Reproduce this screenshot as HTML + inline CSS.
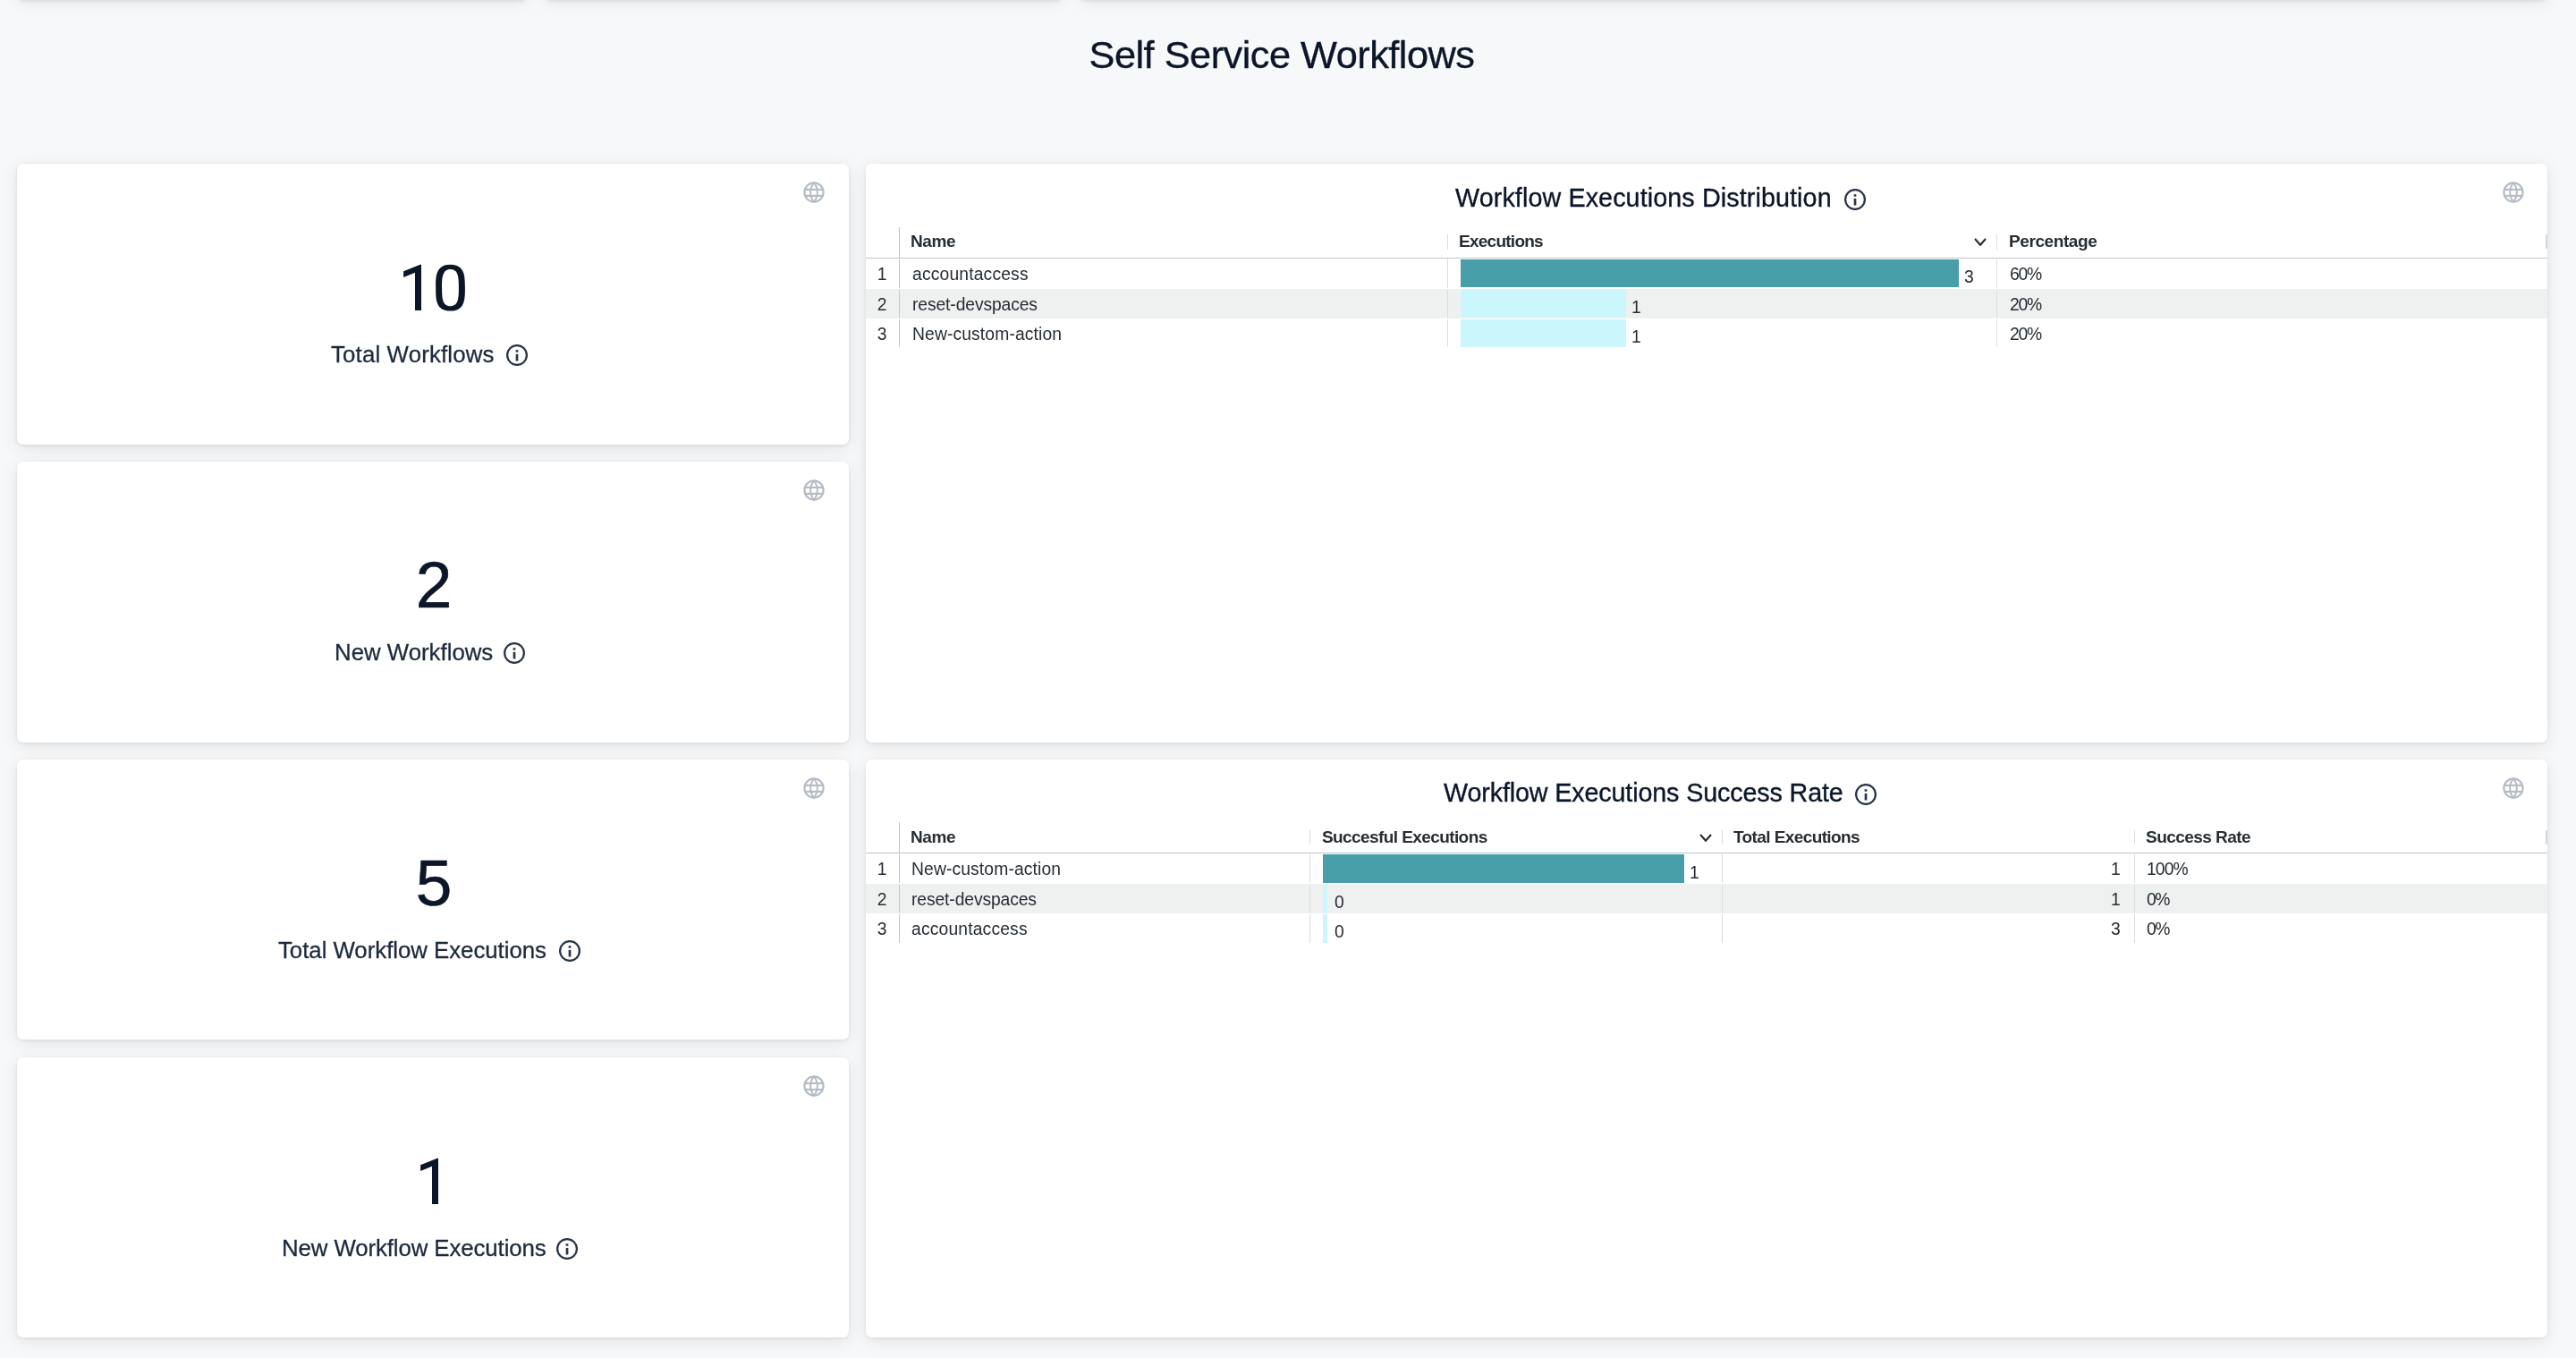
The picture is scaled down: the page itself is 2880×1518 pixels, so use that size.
<!DOCTYPE html>
<html>
<head>
<meta charset="utf-8">
<style>
html,body{margin:0;padding:0;}
body{width:2880px;height:1518px;overflow:hidden;position:relative;background:#f7f8fa;font-family:"Liberation Sans",sans-serif;}
.card{position:absolute;background:#fff;border-radius:6.5px;box-shadow:0 1px 4px rgba(0,0,0,0.08),0 4px 18px rgba(0,0,0,0.09);}
.t{position:absolute;white-space:nowrap;line-height:1;will-change:transform;}
.r{position:absolute;}
svg{display:block;}
</style>
</head>
<body>
<div class="card" style="left:19px;top:-300px;width:571px;height:298px;box-shadow:0 2px 5px rgba(0,0,0,0.13),0 4px 18px rgba(0,0,0,0.09);"></div>
<div class="card" style="left:609px;top:-300px;width:579px;height:298px;box-shadow:0 2px 5px rgba(0,0,0,0.13),0 4px 18px rgba(0,0,0,0.09);"></div>
<div class="card" style="left:1207px;top:-300px;width:1641px;height:298px;box-shadow:0 2px 5px rgba(0,0,0,0.13),0 4px 18px rgba(0,0,0,0.09);"></div>
<div class="t" style="left:933.00px;width:1000px;text-align:center;top:40.35px;font-size:43.3px;color:#0b1629;font-weight:400;-webkit-text-stroke:0.35px #0b1629;letter-spacing:-0.5px;">Self Service Workflows</div>
<div class="card" style="left:19px;top:183px;width:930px;height:314px;"></div>
<div class="r" style="left:898.30px;top:203.20px;width:24px;height:24px;"><svg width="24" height="24" viewBox="0 0 24 24" fill="none" stroke="#b6bcc7" stroke-width="2.2"><circle cx="12" cy="12" r="10.6"/><line x1="1.5" y1="8.9" x2="22.5" y2="8.9"/><line x1="1.5" y1="15.9" x2="22.5" y2="15.9"/><path d="M12 1.4 A16.5 16.5 0 0 0 12 22.6 A16.5 16.5 0 0 0 12 1.4Z" stroke-width="2"/></svg></div>
<svg class="r" style="left:0;top:0;" width="960" height="1518"><polygon points="471.00,295.80 471.00,346.90 464.00,346.90 464.00,304.80 451.10,310.00 451.10,303.30 469.80,295.80" fill="#0b1629"/><path fill-rule="evenodd" fill="#0b1629" d="M503.55 295.80 C520.20 295.80 519.90 309.80 519.90 321.70 C519.90 333.80 520.20 347.60 503.55 347.60 C486.90 347.60 487.20 333.80 487.20 321.70 C487.20 309.80 486.90 295.80 503.55 295.80 Z M503.55 301.00 C494.50 301.00 494.10 310.80 494.10 321.70 C494.10 332.80 494.50 342.20 503.55 342.20 C512.60 342.20 512.90 332.80 512.90 321.70 C512.90 310.80 512.60 301.00 503.55 301.00 Z"/></svg>
<div class="t lbl" style="left:369.95px;top:383.96px;font-size:25.8px;color:#1d2a3d;letter-spacing:0.157px;-webkit-text-stroke:0.3px #1d2a3d;">Total Workflows</div>
<div class="r" style="left:566.15px;top:384.50px;width:24px;height:24px;"><svg width="24" height="24" viewBox="0 0 24 24"><circle cx="12" cy="12" r="10.9" fill="none" stroke="#2a3649" stroke-width="2.3"/><rect x="10.65" y="6.2" width="2.7" height="2.5" fill="#2a3649"/><rect x="10.65" y="10.9" width="2.7" height="7.6" fill="#2a3649"/></svg></div>
<div class="card" style="left:19px;top:516px;width:930px;height:314px;"></div>
<div class="r" style="left:898.30px;top:536.20px;width:24px;height:24px;"><svg width="24" height="24" viewBox="0 0 24 24" fill="none" stroke="#b6bcc7" stroke-width="2.2"><circle cx="12" cy="12" r="10.6"/><line x1="1.5" y1="8.9" x2="22.5" y2="8.9"/><line x1="1.5" y1="15.9" x2="22.5" y2="15.9"/><path d="M12 1.4 A16.5 16.5 0 0 0 12 22.6 A16.5 16.5 0 0 0 12 1.4Z" stroke-width="2"/></svg></div>
<div class="t" style="left:-15.50px;width:1000px;text-align:center;top:617.41px;font-size:73px;color:#0b1629;font-weight:400;-webkit-text-stroke:0.6px #0b1629;">2</div>
<div class="t lbl" style="left:373.55px;top:716.96px;font-size:25.8px;color:#1d2a3d;letter-spacing:0.0px;-webkit-text-stroke:0.3px #1d2a3d;">New Workflows</div>
<div class="r" style="left:562.55px;top:717.50px;width:24px;height:24px;"><svg width="24" height="24" viewBox="0 0 24 24"><circle cx="12" cy="12" r="10.9" fill="none" stroke="#2a3649" stroke-width="2.3"/><rect x="10.65" y="6.2" width="2.7" height="2.5" fill="#2a3649"/><rect x="10.65" y="10.9" width="2.7" height="7.6" fill="#2a3649"/></svg></div>
<div class="card" style="left:19px;top:849px;width:930px;height:313px;"></div>
<div class="r" style="left:898.30px;top:869.20px;width:24px;height:24px;"><svg width="24" height="24" viewBox="0 0 24 24" fill="none" stroke="#b6bcc7" stroke-width="2.2"><circle cx="12" cy="12" r="10.6"/><line x1="1.5" y1="8.9" x2="22.5" y2="8.9"/><line x1="1.5" y1="15.9" x2="22.5" y2="15.9"/><path d="M12 1.4 A16.5 16.5 0 0 0 12 22.6 A16.5 16.5 0 0 0 12 1.4Z" stroke-width="2"/></svg></div>
<div class="t" style="left:-15.50px;width:1000px;text-align:center;top:950.41px;font-size:73px;color:#0b1629;font-weight:400;-webkit-text-stroke:0.6px #0b1629;">5</div>
<div class="t lbl" style="left:311.35px;top:1049.96px;font-size:25.8px;color:#1d2a3d;letter-spacing:-0.025px;-webkit-text-stroke:0.3px #1d2a3d;">Total Workflow Executions</div>
<div class="r" style="left:624.75px;top:1050.50px;width:24px;height:24px;"><svg width="24" height="24" viewBox="0 0 24 24"><circle cx="12" cy="12" r="10.9" fill="none" stroke="#2a3649" stroke-width="2.3"/><rect x="10.65" y="6.2" width="2.7" height="2.5" fill="#2a3649"/><rect x="10.65" y="10.9" width="2.7" height="7.6" fill="#2a3649"/></svg></div>
<div class="card" style="left:19px;top:1182px;width:930px;height:313px;"></div>
<div class="r" style="left:898.30px;top:1202.20px;width:24px;height:24px;"><svg width="24" height="24" viewBox="0 0 24 24" fill="none" stroke="#b6bcc7" stroke-width="2.2"><circle cx="12" cy="12" r="10.6"/><line x1="1.5" y1="8.9" x2="22.5" y2="8.9"/><line x1="1.5" y1="15.9" x2="22.5" y2="15.9"/><path d="M12 1.4 A16.5 16.5 0 0 0 12 22.6 A16.5 16.5 0 0 0 12 1.4Z" stroke-width="2"/></svg></div>
<svg class="r" style="left:0;top:0;" width="960" height="1518"><polygon points="490.00,1294.80 490.00,1345.90 483.00,1345.90 483.00,1303.80 470.10,1309.00 470.10,1302.30 488.80,1294.80" fill="#0b1629"/></svg>
<div class="t lbl" style="left:314.55px;top:1382.96px;font-size:25.8px;color:#1d2a3d;letter-spacing:-0.091px;-webkit-text-stroke:0.3px #1d2a3d;">New Workflow Executions</div>
<div class="r" style="left:621.55px;top:1383.50px;width:24px;height:24px;"><svg width="24" height="24" viewBox="0 0 24 24"><circle cx="12" cy="12" r="10.9" fill="none" stroke="#2a3649" stroke-width="2.3"/><rect x="10.65" y="6.2" width="2.7" height="2.5" fill="#2a3649"/><rect x="10.65" y="10.9" width="2.7" height="7.6" fill="#2a3649"/></svg></div>
<div class="card" style="left:968px;top:183px;width:1880px;height:647px;"></div>
<div class="r" style="left:2797.50px;top:203.20px;width:24px;height:24px;"><svg width="24" height="24" viewBox="0 0 24 24" fill="none" stroke="#b6bcc7" stroke-width="2.2"><circle cx="12" cy="12" r="10.6"/><line x1="1.5" y1="8.9" x2="22.5" y2="8.9"/><line x1="1.5" y1="15.9" x2="22.5" y2="15.9"/><path d="M12 1.4 A16.5 16.5 0 0 0 12 22.6 A16.5 16.5 0 0 0 12 1.4Z" stroke-width="2"/></svg></div>
<div class="t" style="left:1627.00px;top:206.81px;font-size:28.7px;color:#0b1629;font-weight:400;-webkit-text-stroke:0.35px #0b1629;letter-spacing:0.11px;">Workflow Executions Distribution</div>
<div class="r" style="left:2061.90px;top:211.00px;width:24px;height:24px;"><svg width="24" height="24" viewBox="0 0 24 24"><circle cx="12" cy="12" r="10.9" fill="none" stroke="#2a3649" stroke-width="2.3"/><rect x="10.65" y="6.2" width="2.7" height="2.5" fill="#2a3649"/><rect x="10.65" y="10.9" width="2.7" height="7.6" fill="#2a3649"/></svg></div>
<div class="r" style="left:1005px;top:254px;width:1px;height:34px;background:#c1c6cb;"></div>
<div class="r" style="left:1618px;top:262px;width:1px;height:17px;background:#d9dce0;"></div>
<div class="r" style="left:2232px;top:262px;width:1px;height:17px;background:#d9dce0;"></div>
<div class="r" style="left:2846px;top:262px;width:2px;height:16px;background:#d5d9de;"></div>
<div class="r" style="left:968px;top:288px;width:1880px;height:1px;background:#bec3c8;"></div>
<div class="t" style="left:1018.20px;top:260.22px;font-size:19px;color:#262d33;font-weight:700;letter-spacing:-0.433px;">Name</div>
<div class="t" style="left:1631.20px;top:260.22px;font-size:19px;color:#262d33;font-weight:700;letter-spacing:-0.744px;">Executions</div>
<div class="t" style="left:2245.60px;top:260.22px;font-size:19px;color:#262d33;font-weight:700;letter-spacing:-0.411px;">Percentage</div>
<div class="r" style="left:2207px;top:266px;width:14px;height:9px;"><svg width="14" height="9" viewBox="0 0 14 9"><polyline points="1,1 7.0,7.8 13,1" fill="none" stroke="#262d33" stroke-width="2.1"/></svg></div>
<div class="r" style="left:968px;top:323px;width:1880px;height:33px;background:#eff1f1;"></div>
<div class="r" style="left:1005px;top:290px;width:1px;height:32px;background:#c1c6cb;"></div>
<div class="r" style="left:1618px;top:290px;width:1px;height:32px;background:#d9dce0;"></div>
<div class="r" style="left:2232px;top:290px;width:1px;height:32px;background:#d9dce0;"></div>
<div class="t" style="left:485.50px;width:1000px;text-align:center;top:296.66px;font-size:19.3px;color:#262d33;font-weight:400;">1</div>
<div class="t" style="left:1019.60px;top:296.66px;font-size:19.3px;color:#262d33;font-weight:400;letter-spacing:0.167px;">accountaccess</div>
<div class="r" style="left:1633px;top:290px;width:557px;height:31px;background:#489ea9;"></div>
<div class="t" style="left:2196.00px;top:299.66px;font-size:19.3px;color:#262d33;font-weight:400;">3</div>
<div class="t" style="left:2247.00px;top:296.66px;font-size:19.3px;color:#262d33;font-weight:400;letter-spacing:-1.2px;">60%</div>
<div class="r" style="left:1005px;top:324px;width:1px;height:31px;background:#c1c6cb;"></div>
<div class="r" style="left:1618px;top:324px;width:1px;height:31px;background:#d9dce0;"></div>
<div class="r" style="left:2232px;top:324px;width:1px;height:31px;background:#d9dce0;"></div>
<div class="t" style="left:485.50px;width:1000px;text-align:center;top:330.66px;font-size:19.3px;color:#262d33;font-weight:400;">2</div>
<div class="t" style="left:1019.60px;top:330.66px;font-size:19.3px;color:#262d33;font-weight:400;letter-spacing:-0.107px;">reset-devspaces</div>
<div class="r" style="left:1633px;top:324px;width:185px;height:30.5px;background:#cbf6fb;"></div>
<div class="t" style="left:1824.00px;top:333.66px;font-size:19.3px;color:#262d33;font-weight:400;">1</div>
<div class="t" style="left:2247.00px;top:330.66px;font-size:19.3px;color:#262d33;font-weight:400;letter-spacing:-1.2px;">20%</div>
<div class="r" style="left:1005px;top:357px;width:1px;height:31px;background:#c1c6cb;"></div>
<div class="r" style="left:1618px;top:357px;width:1px;height:31px;background:#d9dce0;"></div>
<div class="r" style="left:2232px;top:357px;width:1px;height:31px;background:#d9dce0;"></div>
<div class="t" style="left:485.50px;width:1000px;text-align:center;top:363.66px;font-size:19.3px;color:#262d33;font-weight:400;">3</div>
<div class="t" style="left:1019.60px;top:363.66px;font-size:19.3px;color:#262d33;font-weight:400;letter-spacing:0.125px;">New-custom-action</div>
<div class="r" style="left:1633px;top:357px;width:185px;height:30.5px;background:#cbf6fb;"></div>
<div class="t" style="left:1824.00px;top:366.66px;font-size:19.3px;color:#262d33;font-weight:400;">1</div>
<div class="t" style="left:2247.00px;top:363.66px;font-size:19.3px;color:#262d33;font-weight:400;letter-spacing:-1.2px;">20%</div>
<div class="card" style="left:968px;top:849px;width:1880px;height:646px;"></div>
<div class="r" style="left:2797.50px;top:869.20px;width:24px;height:24px;"><svg width="24" height="24" viewBox="0 0 24 24" fill="none" stroke="#b6bcc7" stroke-width="2.2"><circle cx="12" cy="12" r="10.6"/><line x1="1.5" y1="8.9" x2="22.5" y2="8.9"/><line x1="1.5" y1="15.9" x2="22.5" y2="15.9"/><path d="M12 1.4 A16.5 16.5 0 0 0 12 22.6 A16.5 16.5 0 0 0 12 1.4Z" stroke-width="2"/></svg></div>
<div class="t" style="left:1614.20px;top:872.01px;font-size:28.7px;color:#0b1629;font-weight:400;-webkit-text-stroke:0.35px #0b1629;letter-spacing:-0.126px;">Workflow Executions Success Rate</div>
<div class="r" style="left:2074.40px;top:876.20px;width:24px;height:24px;"><svg width="24" height="24" viewBox="0 0 24 24"><circle cx="12" cy="12" r="10.9" fill="none" stroke="#2a3649" stroke-width="2.3"/><rect x="10.65" y="6.2" width="2.7" height="2.5" fill="#2a3649"/><rect x="10.65" y="10.9" width="2.7" height="7.6" fill="#2a3649"/></svg></div>
<div class="r" style="left:1005px;top:919px;width:1px;height:35px;background:#c1c6cb;"></div>
<div class="r" style="left:1464px;top:928px;width:1px;height:16px;background:#d9dce0;"></div>
<div class="r" style="left:1925px;top:928px;width:1px;height:16px;background:#d9dce0;"></div>
<div class="r" style="left:2386px;top:928px;width:1px;height:16px;background:#d9dce0;"></div>
<div class="r" style="left:2846px;top:928px;width:2px;height:16px;background:#d5d9de;"></div>
<div class="r" style="left:968px;top:953px;width:1880px;height:1px;background:#bec3c8;"></div>
<div class="t" style="left:1018.20px;top:925.92px;font-size:19px;color:#262d33;font-weight:700;letter-spacing:-0.433px;">Name</div>
<div class="t" style="left:1477.80px;top:925.92px;font-size:19px;color:#262d33;font-weight:700;letter-spacing:-0.589px;">Succesful Executions</div>
<div class="t" style="left:1938.20px;top:925.92px;font-size:19px;color:#262d33;font-weight:700;letter-spacing:-0.6px;">Total Executions</div>
<div class="t" style="left:2399.20px;top:925.92px;font-size:19px;color:#262d33;font-weight:700;letter-spacing:-0.545px;">Success Rate</div>
<div class="r" style="left:1900px;top:932px;width:14px;height:9px;"><svg width="14" height="9" viewBox="0 0 14 9"><polyline points="1,1 7.0,7.8 13,1" fill="none" stroke="#262d33" stroke-width="2.1"/></svg></div>
<div class="r" style="left:968px;top:988px;width:1880px;height:33px;background:#eff1f1;"></div>
<div class="r" style="left:1005px;top:955px;width:1px;height:32px;background:#c1c6cb;"></div>
<div class="r" style="left:1464px;top:955px;width:1px;height:32px;background:#d9dce0;"></div>
<div class="r" style="left:1925px;top:955px;width:1px;height:32px;background:#d9dce0;"></div>
<div class="r" style="left:2386px;top:955px;width:1px;height:32px;background:#d9dce0;"></div>
<div class="t" style="left:485.50px;width:1000px;text-align:center;top:961.66px;font-size:19.3px;color:#262d33;font-weight:400;">1</div>
<div class="t" style="left:1019.00px;top:961.66px;font-size:19.3px;color:#262d33;font-weight:400;letter-spacing:0.125px;">New-custom-action</div>
<div class="r" style="left:1479px;top:955px;width:404px;height:31.5px;background:#489ea9;"></div>
<div class="t" style="left:1889.00px;top:965.66px;font-size:19.3px;color:#262d33;font-weight:400;">1</div>
<div class="t" style="right:509.00px;top:961.66px;font-size:19.3px;color:#262d33;font-weight:400;">1</div>
<div class="t" style="left:2399.80px;top:961.66px;font-size:19.3px;color:#262d33;font-weight:400;letter-spacing:-0.9px;">100%</div>
<div class="r" style="left:1005px;top:989px;width:1px;height:31px;background:#c1c6cb;"></div>
<div class="r" style="left:1464px;top:989px;width:1px;height:31px;background:#d9dce0;"></div>
<div class="r" style="left:1925px;top:989px;width:1px;height:31px;background:#d9dce0;"></div>
<div class="r" style="left:2386px;top:989px;width:1px;height:31px;background:#d9dce0;"></div>
<div class="t" style="left:485.50px;width:1000px;text-align:center;top:995.66px;font-size:19.3px;color:#262d33;font-weight:400;">2</div>
<div class="t" style="left:1019.00px;top:995.66px;font-size:19.3px;color:#262d33;font-weight:400;letter-spacing:-0.107px;">reset-devspaces</div>
<div class="r" style="left:1479px;top:989px;width:5px;height:30.5px;background:#cbf6fb;"></div>
<div class="t" style="left:1491.50px;top:999.16px;font-size:19.3px;color:#262d33;font-weight:400;">0</div>
<div class="t" style="right:509.00px;top:995.66px;font-size:19.3px;color:#262d33;font-weight:400;">1</div>
<div class="t" style="left:2399.80px;top:995.66px;font-size:19.3px;color:#262d33;font-weight:400;letter-spacing:-1.5px;">0%</div>
<div class="r" style="left:1005px;top:1022px;width:1px;height:32px;background:#c1c6cb;"></div>
<div class="r" style="left:1464px;top:1022px;width:1px;height:32px;background:#d9dce0;"></div>
<div class="r" style="left:1925px;top:1022px;width:1px;height:32px;background:#d9dce0;"></div>
<div class="r" style="left:2386px;top:1022px;width:1px;height:32px;background:#d9dce0;"></div>
<div class="t" style="left:485.50px;width:1000px;text-align:center;top:1028.66px;font-size:19.3px;color:#262d33;font-weight:400;">3</div>
<div class="t" style="left:1019.00px;top:1028.66px;font-size:19.3px;color:#262d33;font-weight:400;letter-spacing:0.167px;">accountaccess</div>
<div class="r" style="left:1479px;top:1022px;width:5px;height:31.5px;background:#cbf6fb;"></div>
<div class="t" style="left:1491.50px;top:1032.16px;font-size:19.3px;color:#262d33;font-weight:400;">0</div>
<div class="t" style="right:509.00px;top:1028.66px;font-size:19.3px;color:#262d33;font-weight:400;">3</div>
<div class="t" style="left:2399.80px;top:1028.66px;font-size:19.3px;color:#262d33;font-weight:400;letter-spacing:-1.5px;">0%</div>
</body>
</html>
